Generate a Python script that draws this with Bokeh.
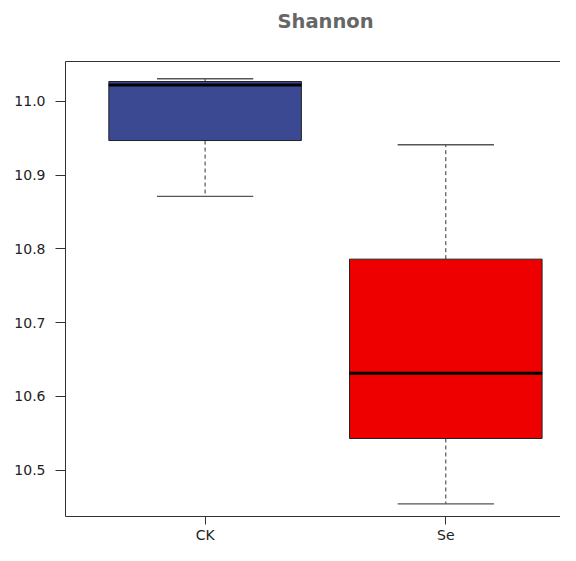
from bokeh.plotting import figure
from bokeh.models import Range1d, FixedTicker, LinearAxis, NumeralTickFormatter
from bokeh.embed import file_html
from bokeh.resources import INLINE

# ---- data ----
groups = ["CK", "Se"]
lower_whisker = [10.871, 10.4545]
q1 = [10.9467, 10.543]
median = [11.022, 10.6314]
q3 = [11.0267, 10.786]
upper_whisker = [11.0304, 10.941]
colors = ["#3B4992", "#EE0000"]
y_ticks = [10.5, 10.6, 10.7, 10.8, 10.9, 11.0]

pos = [i + 1 for i in range(len(groups))]
box_w = 0.8
cap_w = 0.4

p = figure(width=560, height=545, output_backend="svg", toolbar_location=None,
           x_range=Range1d(0.42, 2.4765), y_range=Range1d(10.4373, 11.0538),
           min_border_left=65, min_border_right=0, min_border_top=61, min_border_bottom=29)
p.outline_line_color = None
p.xgrid.visible = False
p.ygrid.visible = False
p.background_fill_color = "white"
p.border_fill_color = "white"

p.title.text = "Shannon"
p.title.text_font = "DejaVu Sans"
p.title.text_font_style = "bold"
p.title.text_font_size = "19.5px"
p.title.text_color = "#666666"
p.title.align = "left"
p.title.offset = 212
p.title.standoff = 15

axis_color = "#333333"

# y axis
ya = p.yaxis[0]
ya.ticker = FixedTicker(ticks=y_ticks)
ya.formatter = NumeralTickFormatter(format="0.0")
ya.major_tick_out = 10
ya.major_tick_in = 0
ya.minor_tick_line_color = None
ya.major_label_standoff = 10
ya.major_label_text_font = "DejaVu Sans"
ya.major_label_text_font_size = "14px"
ya.major_label_text_color = "#222222"
ya.axis_line_color = axis_color
ya.major_tick_line_color = axis_color

# x axis
xa = p.xaxis[0]
xa.ticker = FixedTicker(ticks=pos)
xa.major_label_overrides = {pos[i]: groups[i] for i in range(len(groups))}
xa.major_tick_out = 8
xa.major_tick_in = 0
xa.minor_tick_line_color = None
xa.major_label_standoff = 2
xa.major_label_text_font = "DejaVu Sans"
xa.major_label_text_font_size = "14px"
xa.major_label_text_color = "#222222"
xa.axis_line_color = axis_color
xa.major_tick_line_color = axis_color

# top border of the frame; its blank label keeps space under the title
top = LinearAxis(ticker=FixedTicker(ticks=[]), major_tick_out=0, major_tick_in=0,
                 minor_tick_out=0, minor_tick_in=0, major_label_standoff=0,
                 major_tick_line_color=None,
                 axis_label=" ", axis_label_text_font_size="12px", axis_label_standoff=4,
                 axis_line_color=axis_color, major_label_text_font_size="0px")
p.add_layout(top, "above")

# whiskers
x0c = [x - cap_w / 2 for x in pos]
x1c = [x + cap_w / 2 for x in pos]
p.segment(x0=pos, x1=pos, y0=q3, y1=upper_whisker, line_color="#333333", line_width=1, line_dash="4 3")
p.segment(x0=pos, x1=pos, y0=q1, y1=lower_whisker, line_color="#333333", line_width=1, line_dash="4 3")
p.segment(x0=x0c, x1=x1c, y0=upper_whisker, y1=upper_whisker, line_color="#555555", line_width=1.3)
p.segment(x0=x0c, x1=x1c, y0=lower_whisker, y1=lower_whisker, line_color="#555555", line_width=1.3)

# boxes
p.vbar(x=pos, width=box_w, bottom=q1, top=q3, fill_color=colors, line_color="#222222", line_width=1)

# medians
x0m = [x - box_w / 2 for x in pos]
x1m = [x + box_w / 2 for x in pos]
p.segment(x0=x0m, x1=x1m, y0=median, y1=median, line_color="black", line_width=3)

open("out.html", "w").write(file_html(p, INLINE))
